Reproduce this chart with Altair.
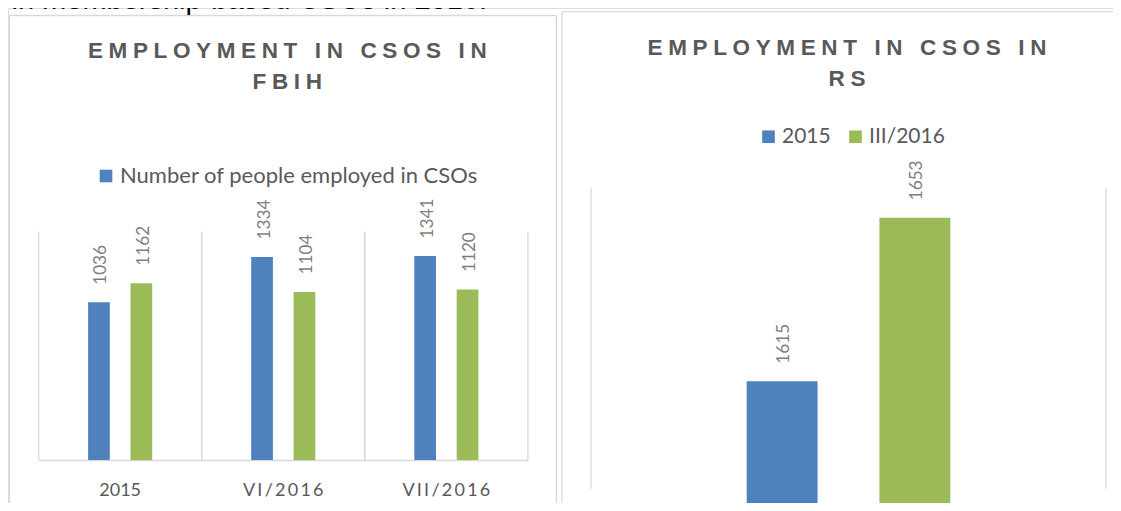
import altair as alt
import pandas as pd

# ---------------- data ----------------
fbih_periods = ["2015", "VI/2016", "VII/2016"]
fbih_series_names = ["Number of people employed in CSOs", "Series 2"]
fbih_blue = [1036, 1334, 1341]
fbih_green = [1162, 1104, 1120]

rs_series_names = ["2015", "III/2016"]
rs_values = [1615, 1653]

title_left = ["EMPLOYMENT IN CSOS IN", "FBIH"]
title_right = ["EMPLOYMENT IN CSOS IN", "RS"]
doc_text = "in membership-based CSOs in 2016."

BLUE = "#4F81BD"
GREEN = "#9BBB59"
GRID = "#D9D9D9"
TXT = "#595959"
LBL = "#7F7F7F"
FONT = "Lato"
TFONT = "Liberation Sans"

W, H = 1105, 495
SP = "\u2005"
THIN = "\u2009"


def spaced(s):
    return SP.join(list(s))


left_df = pd.DataFrame(
    {
        "period": fbih_periods * 2,
        "series": [fbih_series_names[0]] * 3 + [fbih_series_names[1]] * 3,
        "value": fbih_blue + fbih_green,
    }
)
left_periods_df = pd.DataFrame({"period": fbih_periods})
right_df = pd.DataFrame(
    {"panel": ["RS"] * 2, "series": rs_series_names, "value": rs_values}
)
right_panel_df = pd.DataFrame({"panel": ["RS"]})
one = pd.DataFrame({"k": [0]})

# ---------------- left panel ----------------
def lx_scale():
    return alt.Scale(domain=fbih_periods, range=[30.6, 519.9], paddingInner=0, paddingOuter=0)


def ly_scale():
    return alt.Scale(domain=[0, 1500], range=[452, 223.7], nice=False, zero=True)


def lxo():
    return alt.XOffset(
        "series:N",
        scale=alt.Scale(domain=fbih_series_names, range=[49.5, 113.6], paddingInner=0.488, paddingOuter=0),
    )


def lxo_text():
    # point positions at the centres of the bar sub-bands
    return alt.XOffset(
        "series:N",
        scale=alt.Scale(type="point", domain=fbih_series_names, range=[60.35, 102.75], padding=0),
    )


label_expr = (
    "indexof(datum.label, '/') >= 0 ? replace(datum.label, regexp('(.)(?=.)', 'g'), '$1"
    + THIN
    + "') : datum.label"
)

left_bars = alt.Chart(left_df).mark_bar().encode(
    x=alt.X(
        "period:N",
        scale=lx_scale(),
        title=None,
        axis=alt.Axis(
            orient="bottom",
            offset=-43,
            grid=False,
            ticks=False,
            tickSize=0,
            domainColor=GRID,
            domainWidth=1.3,
            labelFont=FONT,
            labelFontSize=18,
            labelColor=TXT,
            labelAngle=0,
            labelPadding=30,
            labelBaseline="middle",
            labelExpr=label_expr,
        ),
    ),
    xOffset=lxo(),
    y=alt.Y("value:Q", scale=ly_scale(), axis=None),
    color=alt.Color(
        "series:N",
        scale=alt.Scale(domain=fbih_series_names, range=[BLUE, GREEN]),
        legend=alt.Legend(
            values=[fbih_series_names[0]],
            orient="none",
            legendX=87,
            legendY=157,
            title=None,
            labelFont=FONT,
            labelFontSize=22,
            labelColor=TXT,
            labelLimit=600,
            symbolType="square",
            symbolSize=160,
            symbolStrokeWidth=0,
            labelOffset=3,
        ),
    ),
)

# rotated labels: dx runs along the text (upwards), dy across it (rightwards)
left_labels = alt.Chart(left_df).mark_text(
    angle=270, align="left", baseline="middle", dx=17.5, dy=2.5,
    font=FONT, fontSize=17.2, color=LBL,
).encode(
    x=alt.X("period:N", scale=lx_scale(), axis=None),
    xOffset=lxo_text(),
    y=alt.Y("value:Q", scale=ly_scale(), axis=None),
    text="value:Q",
)

left_grid_start = alt.Chart(left_periods_df).mark_rule(color=GRID, strokeWidth=1.3).encode(
    x=alt.X("period:N", scale=lx_scale(), axis=None, bandPosition=0),
    y=alt.Y("y0:Q", scale=ly_scale(), axis=None),
    y2="y1:Q",
).transform_calculate(y0="0", y1="1500")

left_grid_end = alt.Chart(left_periods_df).mark_rule(color=GRID, strokeWidth=1.3).encode(
    x=alt.X("period:N", scale=lx_scale(), axis=None, bandPosition=1),
    y=alt.Y("y0:Q", scale=ly_scale(), axis=None),
    y2="y1:Q",
).transform_calculate(y0="0", y1="1500")

# ---------------- right panel ----------------
def rx_scale():
    return alt.Scale(domain=["RS"], range=[583, 1098], paddingInner=0, paddingOuter=0)


def ry_scale():
    return alt.Scale(domain=[1590, 1660], range=[480.7, 179.7], nice=False, zero=False)


def rxo():
    return alt.XOffset(
        "series:N",
        scale=alt.Scale(domain=rs_series_names, range=[155.7, 359.3], paddingInner=0.466, paddingOuter=0),
    )


def rxo_text():
    return alt.XOffset(
        "series:N",
        scale=alt.Scale(type="point", domain=rs_series_names, range=[191.15, 323.85], padding=0),
    )


right_bars = alt.Chart(right_df).mark_bar().encode(
    x=alt.X("panel:N", scale=rx_scale(), axis=None),
    xOffset=rxo(),
    y=alt.Y("value:Q", scale=ry_scale(), axis=None),
    color=alt.Color(
        "series:N",
        scale=alt.Scale(domain=rs_series_names, range=[BLUE, GREEN]),
        legend=alt.Legend(
            orient="none",
            direction="horizontal",
            legendX=750,
            legendY=118,
            title=None,
            labelFont=FONT,
            labelFontSize=21,
            labelColor=TXT,
            symbolType="square",
            symbolSize=160,
            symbolStrokeWidth=0,
            labelOffset=3,
            columnPadding=14,
        ),
    ),
)

right_labels = alt.Chart(right_df).mark_text(
    angle=270, align="left", baseline="middle", dx=17.5, dy=2,
    font=FONT, fontSize=17.2, color=LBL,
).encode(
    x=alt.X("panel:N", scale=rx_scale(), axis=None),
    xOffset=rxo_text(),
    y=alt.Y("value:Q", scale=ry_scale(), axis=None),
    text="value:Q",
)

right_grid_start = alt.Chart(right_panel_df).mark_rule(color=GRID, strokeWidth=1.3).encode(
    x=alt.X("panel:N", scale=rx_scale(), axis=None, bandPosition=0),
    y=alt.Y("y0:Q", scale=ry_scale(), axis=None),
    y2="y1:Q",
).transform_calculate(y0="1590", y1="1660")

right_grid_end = alt.Chart(right_panel_df).mark_rule(color=GRID, strokeWidth=1.3).encode(
    x=alt.X("panel:N", scale=rx_scale(), axis=None, bandPosition=1),
    y=alt.Y("y0:Q", scale=ry_scale(), axis=None),
    y2="y1:Q",
).transform_calculate(y0="1590", y1="1660")

# ---------------- decorations (panel frames, titles) ----------------
def vrule(x, y1, y2):
    return alt.Chart(one).mark_rule(color=GRID, strokeWidth=1.3).encode(
        x=alt.value(x), y=alt.value(y1), y2=alt.value(y2)
    )


def hrule(x1, x2, y):
    return alt.Chart(one).mark_rule(color=GRID, strokeWidth=1.3).encode(
        x=alt.value(x1), x2=alt.value(x2), y=alt.value(y)
    )


frames = [
    vrule(1.5, 7.5, H + 10),
    vrule(548.3, 7.5, H + 10),
    hrule(1.5, 548.3, 7.5),
    vrule(554, 3.7, H + 10),
    hrule(554, W + 10, 3.7),
]


def title_line(txt, x, y):
    return alt.Chart(one).mark_text(
        text=spaced(txt),
        font=TFONT,
        fontSize=22.5,
        fontWeight="bold",
        color=TXT,
        align="center",
        baseline="alphabetic",
    ).encode(x=alt.value(x), y=alt.value(y))


titles = [
    title_line(title_left[0], 279.3, 50.3),
    title_line(title_left[1], 279.3, 81.0),
    title_line(title_right[0], 839, 47.2),
    title_line(title_right[1], 839, 77.8),
]

doc = alt.Chart(one).mark_text(
    text=doc_text, font=TFONT, fontSize=29, color="#000000",
    align="right", baseline="alphabetic",
).encode(x=alt.value(479), y=alt.value(0.5))

layers = [
    left_grid_start, left_grid_end, left_bars, left_labels,
    right_grid_start, right_grid_end, right_bars, right_labels,
] + frames + titles + [doc]

chart = (
    alt.layer(*layers)
    .resolve_scale(x="independent", y="independent", xOffset="independent", color="independent")
    .properties(width=W, height=H, padding=0, autosize=alt.AutoSizeParams(type="none"))
    .configure_view(stroke=None)
    .configure(background="white")
)

chart.save("out.html", embed_options={"renderer": "svg", "actions": False})
